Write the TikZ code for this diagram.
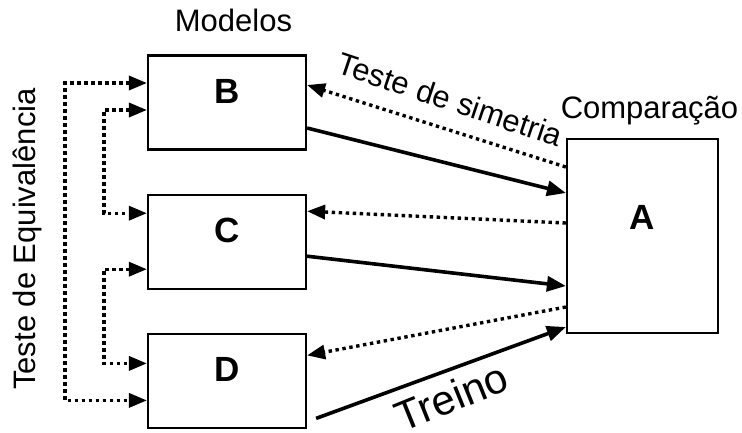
\documentclass[tikz,border=0pt]{standalone}
\usepackage{fontspec}
\setmainfont{Liberation Sans}
\usepackage{tikz}
\usetikzlibrary{positioning, arrows.meta}
\tikzstyle{model} = [rectangle, minimum width=158pt, minimum height=94pt, draw=black, line width=2.2pt, font=\fontsize{35}{40}\selectfont\bfseries, text height=24pt, text depth=23pt]
\tikzstyle{compare} = [model, minimum width=151pt, minimum height=194pt, text depth=38pt]
\tikzstyle{caption} = [font=\fontsize{31}{36}\selectfont, anchor=base, inner sep=0pt]
\tikzstyle{train} = [line width=3.6pt, -{Triangle[length=19pt, width=15pt]}]
\tikzstyle{sym} = [line width=3.4pt, dash pattern=on 3.4pt off 3.6pt, -{Triangle[length=18pt, width=14pt]}]
\tikzstyle{equiv} = [sym, {Triangle[length=18pt, width=14pt]}-{Triangle[length=18pt, width=14pt]}]

\begin{document}
\begin{tikzpicture}[x=1pt, y=-1pt, node distance=43pt]
	\useasboundingbox (0,0) rectangle (742,432);
	\node[model] (B) at (227,102.5) {B};
	\node[model, below=of B] (C) {C};
	\node[model, below=of C] (D) {D};
	\node[compare] (A) at (642.5,236) {A};

	\node[caption] (modelos) at (233.5,31) {Modelos};
	\node[caption] (comparacao) at (649.5,118) {Comparação};
	\node[caption, rotate=90] (equivalencia) at (35,239) {Teste de Equivalência};
	\node[caption, rotate=-18.5] (simetria) at (447,110) {Teste de simetria};
	\node[caption, rotate=22, font=\fontsize{42}{48}\selectfont] (treino) at (457,410.5) {Treino};

	\draw[train] ([yshift=-25.5pt]B.east) -- ([yshift=43pt]A.west);
	\draw[train] ([yshift=-14.5pt]C.east) -- ([yshift=-50pt]A.west);
	\draw[train] ([xshift=9pt,yshift=-37.5pt]D.east) -- ([yshift=-91pt]A.west);
	\draw[sym] ([yshift=69pt]A.west) -- ([yshift=17.5pt]B.east);
	\draw[sym] ([yshift=13pt]A.west) -- ([yshift=30.5pt]C.east);
	\draw[sym] ([yshift=-71pt]A.west) -- ([yshift=25.5pt]D.east);
	\draw[equiv] ([yshift=19.5pt]B.west) -- ++(-82pt,0) |- ([yshift=-19.5pt]D.west);
	\draw[equiv] ([yshift=-7.5pt]B.west) -- ++(-43pt,0) |- ([yshift=28.5pt]C.west);
	\draw[equiv] ([yshift=-27.5pt]C.west) -- ++(-43pt,0) |- ([yshift=17.5pt]D.west);
\end{tikzpicture}
\end{document}
